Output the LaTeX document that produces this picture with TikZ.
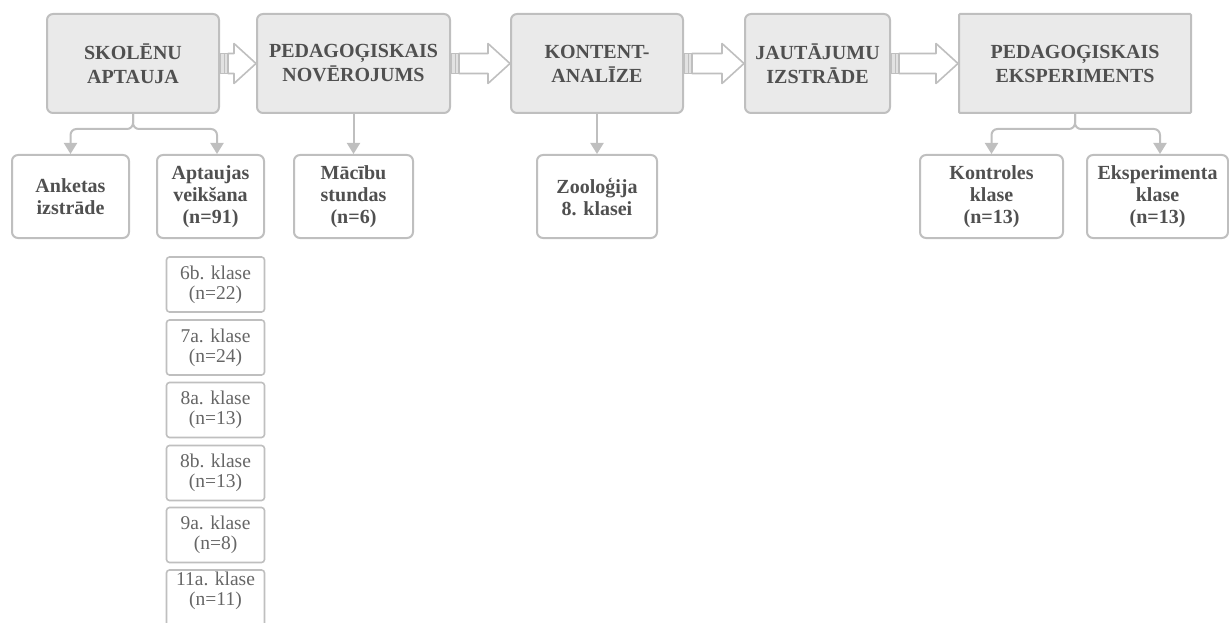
\documentclass[tikz,border=0pt]{standalone}
\usepackage{fontspec}
\setmainfont{Liberation Serif}
\usetikzlibrary{arrows.meta,calc}
\definecolor{txt}{HTML}{505050}
\definecolor{txtl}{HTML}{666666}
\definecolor{lineg}{HTML}{BFBFBF}
\definecolor{boxfill}{HTML}{EAEAEA}
\begin{document}
\begin{tikzpicture}[x=1pt,y=-1pt,
 topbox/.style={draw=lineg, fill=boxfill, line width=2pt, rounded corners=6pt, text=txt, font=\fontsize{20}{24}\selectfont\bfseries, align=center, minimum height=99pt, inner sep=0pt},
 subbox/.style={draw=lineg, fill=white, line width=2pt, rounded corners=6pt, text=txt, font=\fontsize{20}{22}\selectfont\bfseries, align=center, minimum height=83pt, inner sep=0pt},
 classbox/.style={draw=lineg, fill=white, line width=1.6pt, rounded corners=3pt, text=txtl, font=\fontsize{19.5}{20}\selectfont, align=center, minimum width=98pt, minimum height=55pt, inner sep=0pt},
 conn/.style={draw=lineg, line width=2pt, rounded corners=6pt, -{Triangle[width=13pt,length=11pt]}},
 blk/.style={draw=lineg, fill=white, line width=1.6pt, line join=round},
 blkbar/.style={draw=lineg, fill=lineg!45, line width=1.2pt}]

\clip (0,0) rectangle (1229,623);

% top row
\node[topbox, minimum width=172pt] (s1) at (133,63.5) {SKOLĒNU\\APTAUJA};
\node[topbox, minimum width=193pt] (s2) at (353.5,63.5) {PEDAGOĢISKAIS\\NOVĒROJUMS};
\node[topbox, minimum width=172pt] (s3) at (597,63.5) {KONTENT-\\ANALĪZE};
\node[topbox, minimum width=145pt] (s4) at (817.5,63.5) {JAUTĀJUMU\\IZSTRĀDE};
\node[topbox, minimum width=232pt, rounded corners=1pt] (s5) at (1075,63.5) {PEDAGOĢISKAIS\\EKSPERIMENTS};

% second row
\node[subbox, minimum width=117pt] (b1) at (70.5,196.5) {Anketas\\izstrāde};
\node[subbox, minimum width=107pt] (b2) at (210.5,196.5) {Aptaujas\\veikšana\\(n=91)};
\node[subbox, minimum width=119pt] (b3) at (353.5,196.5) {Mācību\\stundas\\(n=6)};
\node[subbox, minimum width=120pt] (b4) at (597,196.5) {Zooloģija\\8. klasei};
\node[subbox, minimum width=143pt] (b5) at (991.5,196.5) {Kontroles\\klase\\(n=13)};
\node[subbox, minimum width=141pt] (b6) at (1157.5,196.5) {Eksperimenta\\klase\\(n=13)};

% class boxes
\node[classbox] (c1) at (215.5,284.5) {6b. klase\\(n=22)};
\node[classbox] (c2) at (215.5,347.5) {7a. klase\\(n=24)};
\node[classbox] (c3) at (215.5,410) {8a. klase\\(n=13)};
\node[classbox] (c4) at (215.5,473) {8b. klase\\(n=13)};
\node[classbox] (c5) at (215.5,535) {9a. klase\\(n=8)};
\node[classbox, minimum height=62pt, text height=14pt] (c6) at (215.5,601) {11a. klase\\(n=11)};

% connectors
\draw[conn] (s1.south) -- ++(0,15) -| (b1.north);
\draw[conn] (s1.south) -- ++(0,15) -| ([xshift=6.5pt]b2.north);
\draw[conn] (s2.south) -- (b3.north);
\draw[conn] (s3.south) -- (b4.north);
\draw[conn] (s5.south) -- ++(0,15) -| (b5.north);
\draw[conn] (s5.south) -- ++(0,15) -| ([xshift=2.5pt]b6.north);

% block arrows
\foreach \a/\b in {s1/s2,s2/s3,s3/s4,s4/s5}{
 \path[blk] let \p1=(\a.east), \p2=(\b.west) in
   (\x1+8pt,\y1+10pt) -- (\x2-22pt,\y1+10pt) -- (\x2-22pt,\y1+20pt) -- (\x2,\y1)
   -- (\x2-22pt,\y1-20pt) -- (\x2-22pt,\y1-10pt) -- (\x1+8pt,\y1-10pt) -- cycle;
 \path[blkbar] let \p1=(\a.east) in (\x1,\y1-10pt) rectangle (\x1+8pt,\y1+10pt);
 \draw[lineg, line width=1pt] let \p1=(\a.east) in (\x1+4pt,\y1-10pt) -- (\x1+4pt,\y1+10pt);
}
\end{tikzpicture}
\end{document}
